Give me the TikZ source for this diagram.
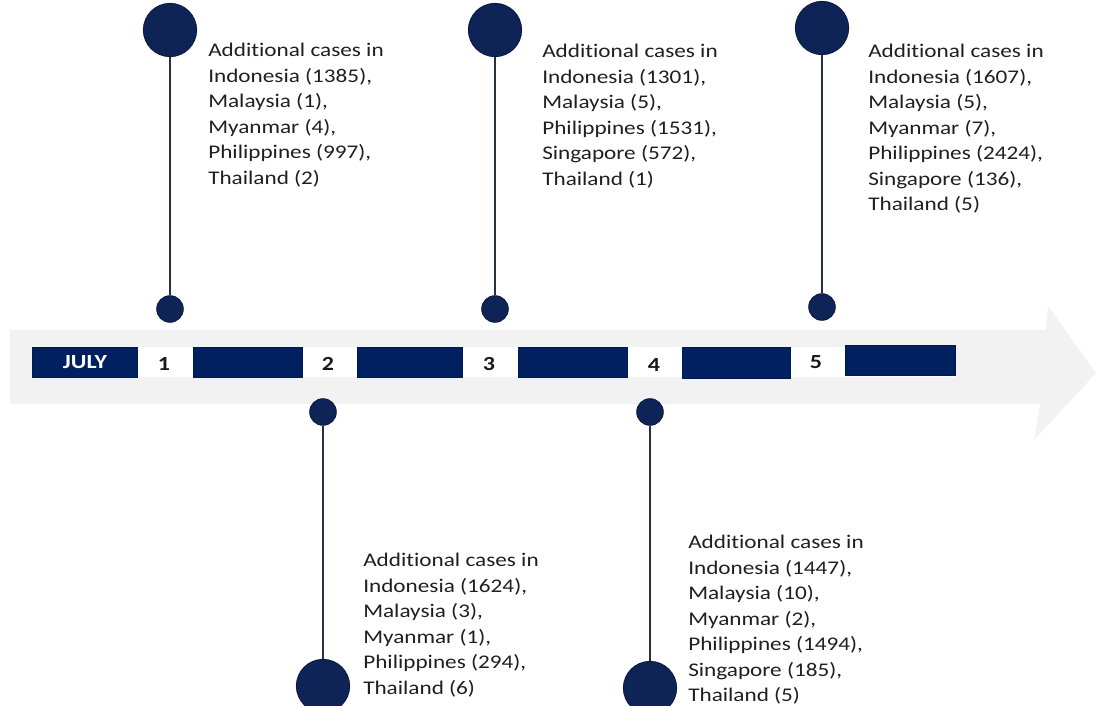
\documentclass[tikz,border=0pt]{standalone}
\usepackage{fontspec}
\setmainfont{Carlito}
\newfontfamily\infofont[FakeStretch=1.2,Ligatures=NoCommon]{Carlito}
\definecolor{navy}{RGB}{0,32,96}
\definecolor{pinnavy}{RGB}{14,35,86}
\definecolor{band}{RGB}{242,242,242}
\definecolor{stem}{RGB}{40,48,70}
\begin{document}
\begin{tikzpicture}[x=0.75pt,y=-0.75pt,
  bigdot/.style={circle,fill=pinnavy,draw=pinnavy!70!black,line width=0.6pt,minimum size=40,inner sep=0},
  smalldot/.style={circle,fill=pinnavy,draw=pinnavy!70!black,line width=0.6pt,minimum size=20,inner sep=0},
  stemline/.style={draw=stem,line width=1.6pt},
  bar/.style={fill=navy,draw=navy!80!black,line width=0.4pt},
  daynum/.style={font=\infofont\fontsize{15}{18}\selectfont\bfseries,text=black!90,inner sep=0},
  info/.style={anchor=north west,align=left,inner sep=0,font=\infofont\fontsize{14.5}{19.1}\selectfont,text=black!88}]
\useasboundingbox (0,0) rectangle (1096,706);
% arrow band
\fill[band] (10,330) -- (1046,330) -- (1048,306) -- (1096,373) -- (1034,440) -- (1040,404) -- (10,404) -- cycle;
% white strip
\fill[white] (32,347) rectangle (955,377);
% bars
\draw[bar] (32,347) rectangle (137,377);
\node[font=\infofont\fontsize{15}{18}\selectfont\bfseries,text=white,inner sep=0] (july) at (85,362) {JULY};
\draw[bar] (193,347) rectangle (302,377);
\draw[bar] (357,347) rectangle (462,377);
\draw[bar] (518,347) rectangle (627,377);
\draw[bar] (682,347) rectangle (790,378);
\draw[bar] (845,345) rectangle (955,375);
\node[daynum] (d1) at (164,364) {1};
\node[daynum] (d2) at (328,364) {2};
\node[daynum] (d3) at (489,364) {3};
\node[daynum] (d4) at (654,365) {4};
\node[daynum] (d5) at (816,362) {5};
% pins top
\node[bigdot] (t1) at (170,30) {};
\node[smalldot] (s1) at (170,309) {};
\node[bigdot] (t3) at (495,30) {};
\node[smalldot] (s3) at (495,309) {};
\node[bigdot] (t5) at (822,28) {};
\node[smalldot] (s5) at (822,307) {};
% pins bottom
\node[smalldot] (s2) at (323,412) {};
\node[bigdot] (b2) at (323,686) {};
\node[smalldot] (s4) at (650,412) {};
\node[bigdot] (b4) at (650,688) {};
\path[stemline] (t1) -- (s1);
\path[stemline] (t3) -- (s3);
\path[stemline] (t5) -- (s5);
\path[stemline] (s2) -- (b2);
\path[stemline] (s4) -- (b4);
% texts
\node[info] (x1) at (208,43) {Additional cases in\\Indonesia (1385),\\Malaysia (1),\\Myanmar (4),\\Philippines (997),\\Thailand (2)};
\node[info] (x3) at (542,44) {Additional cases in\\Indonesia (1301),\\Malaysia (5),\\Philippines (1531),\\Singapore (572),\\Thailand (1)};
\node[info] (x5) at (868,44) {Additional cases in\\Indonesia (1607),\\Malaysia (5),\\Myanmar (7),\\Philippines (2424),\\Singapore (136),\\Thailand (5)};
\node[info] (x2) at (363,553) {Additional cases in\\Indonesia (1624),\\Malaysia (3),\\Myanmar (1),\\Philippines (294),\\Thailand (6)};
\node[info] (x4) at (688,535) {Additional cases in\\Indonesia (1447),\\Malaysia (10),\\Myanmar (2),\\Philippines (1494),\\Singapore (185),\\Thailand (5)};
\end{tikzpicture}
\end{document}
